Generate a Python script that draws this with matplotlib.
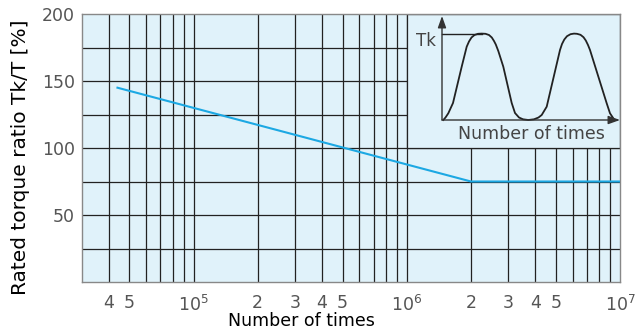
import matplotlib
matplotlib.use('Agg')
import matplotlib.pyplot as plt
from matplotlib.patches import Rectangle

plt.rcParams['font.family'] = ['DejaVu Sans']
plt.rcParams['mathtext.default'] = 'regular'

# data
x_curve = [4.4e4, 2e6, 1e7]
y_curve = [145, 75, 75]

xtick_vals = [4e4, 5e4, 1e5, 2e5, 3e5, 4e5, 5e5, 1e6, 2e6, 3e6, 4e6, 5e6, 1e7]
xtick_labels = ['4', '5', r'$10^5$', '2', '3', '4', '5', r'$10^6$', '2', '3', '4', '5', r'$10^7$']
ytick_vals = [50, 100, 150, 200]

grid_x = [4e4, 5e4, 6e4, 7e4, 8e4, 9e4,
          1e5, 2e5, 3e5, 4e5, 5e5, 6e5, 7e5, 8e5, 9e5,
          1e6, 2e6, 3e6, 4e6, 5e6, 6e6, 7e6, 8e6, 9e6]
grid_y = [25, 50, 75, 100, 125, 150, 175]

# inset waveform (arbitrary units, origin at the arrow corner, Tk = 86)
wave_x = [1.3, 3.5, 6.3, 11, 19.7, 24.7, 27, 29.5, 32.5, 36, 39.7, 43.5, 47, 49.8, 52, 53.8,
          56.3, 61.3, 69.7, 73, 77, 81, 86.3, 92, 96.5, 99.7, 104.7, 118, 120, 122.3, 125,
          128.5, 132, 135, 138.5, 141.5, 143.8, 146, 148, 164.7, 168, 171.3]
wave_y = [0, 2.5, 6.7, 17, 53.3, 73.3, 78.5, 82.5, 85, 86.2, 86.4, 86.2, 85, 82.5, 79, 75.5,
          69, 53.3, 17, 7, 2.5, 0.7, 0, 0.7, 2.5, 5, 13.3, 70, 76, 80.5, 83.8,
          85.8, 86.4, 86.2, 85.2, 82.8, 79.5, 75, 70, 16.7, 6.7, 1.7]
tk_level = 86.4

bg = '#e0f2fa'
gridc = '#222222'

fig = plt.figure(figsize=(6.39, 3.33), dpi=100)
ax = fig.add_axes([82/639, 1-282/333, (620-82)/639, (282-14)/333])
ax.set_facecolor(bg)
ax.set_xscale('log')
ax.set_xlim(3e4, 1e7)
ax.set_ylim(0, 200)

ax.vlines(grid_x, 0, 200, colors=gridc, lw=0.9, zorder=1)
ax.hlines(grid_y, 3e4, 1e7, colors=gridc, lw=0.9, zorder=1)

# inset panel
ax.add_patch(Rectangle((1e6, 100), 9e6, 100, facecolor=bg, edgecolor=gridc, lw=0.9, zorder=2))

ax.plot(x_curve, y_curve, color='#1ca8e3', lw=1.5, zorder=3)

ax.set_xticks(xtick_vals, xtick_labels)
ax.xaxis.set_minor_locator(matplotlib.ticker.NullLocator())
ax.set_yticks(ytick_vals)
ax.tick_params(length=0, labelsize=12.5, labelcolor='#555555')
ax.tick_params(axis='x', pad=9)
ax.tick_params(axis='y', pad=5)
for s in ax.spines.values():
    s.set_color('#888888')
    s.set_linewidth(1.0)

fig.text(21/639, 1-157/333, 'Rated torque ratio Tk/T [%]', rotation=90,
         ha='center', va='center', fontsize=14.5)
fig.text(301/639, 1-321/333, 'Number of times', ha='center', va='center', fontsize=12.5)

# inset drawing
ax2 = fig.add_axes([407/639, 1-147/333, 213/639, 133/333])
ax2.set_xlim(-35, 178)
ax2.set_ylim(-27, 106)
ax2.axis('off')
ax2.plot(wave_x, wave_y, color='#222222', lw=1.3)
ax2.plot([0, 39.7], [tk_level, tk_level], color='#222222', lw=1.0)
arrow = dict(arrowstyle='-|>,head_length=0.7,head_width=0.25', color='#333333',
             lw=1.0, shrinkA=0, shrinkB=0)
ax2.annotate('', xy=(0, 104), xytext=(0, 0), arrowprops=arrow)
ax2.annotate('', xy=(178, 0), xytext=(0, 0), arrowprops=arrow)
ax2.text(-16, 79, 'Tk', ha='center', va='center', fontsize=12, color='#444444')
ax2.text(89, -14, 'Number of times', ha='center', va='center', fontsize=12.5, color='#444444')

fig.savefig('out.png', dpi=100)
